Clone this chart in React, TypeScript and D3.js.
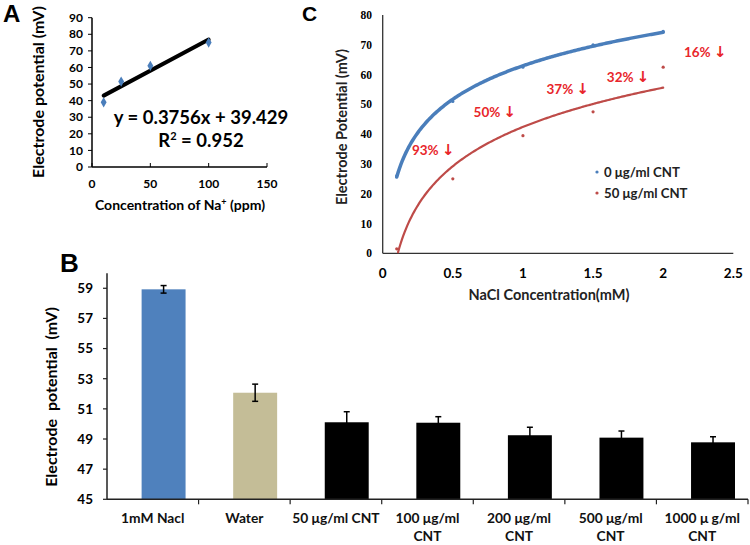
import React from "react";
import * as d3 from "d3";

// Panel A data
const naPpm = [10, 25, 50, 100];
const naPotential = [39, 51.5, 61, 75];
const aYTicks = [0, 10, 20, 30, 40, 50, 60, 70, 80, 90];
const aXTicks = [0, 50, 100, 150];

// Panel B data
const bCategories = ["1mM Nacl", "Water", "50 μg/ml CNT", "100 μg/ml|CNT", "200 μg/ml|CNT", "500 μg/ml|CNT", "1000 μ g/ml|CNT"];
const bValues = [58.93, 52.07, 50.11, 50.08, 49.25, 49.09, 48.78];
const bErrors = [0.25, 0.57, 0.7, 0.4, 0.53, 0.44, 0.37];
const bColors = ["#4f81bd", "#c4bd97", "#000000", "#000000", "#000000", "#000000", "#000000"];
const bYTicks = [45, 47, 49, 51, 53, 55, 57, 59];

// Panel C data
const nacl = [0.1, 0.5, 1, 1.5, 2];
const pot0 = [26, 51, 62.5, 70, 74.5];
const pot50 = [1.5, 25, 39.5, 47.5, 62.5];
const cXTicks = [0, 0.5, 1, 1.5, 2, 2.5];
const cYTicks = [0, 10, 20, 30, 40, 50, 60, 70, 80];
const dropLabels = ["93%", "50%", "37%", "32%", "16%"];
const dropX = [0.36, 0.8, 1.32, 1.75, 2.3];
const dropY = [34.5, 47.5, 55, 59, 67.5];

const SANS = "Lato, 'Open Sans', sans-serif";
const SERIF = "'Liberation Serif', 'DejaVu Serif', serif";

function linFit(xs: number[], ys: number[]) {
  const mx = d3.mean(xs)!;
  const my = d3.mean(ys)!;
  let sxy = 0, sxx = 0;
  xs.forEach((x, i) => { sxy += (x - mx) * (ys[i] - my); sxx += (x - mx) * (x - mx); });
  const a = sxy / sxx;
  return { a, b: my - a * mx };
}

function PanelA() {
  const x = d3.scaleLinear().domain([0, 150]).range([92, 267]);
  const y = d3.scaleLinear().domain([0, 90]).range([167, 17.7]);
  const fit = linFit(naPpm, naPotential);
  const x0 = d3.min(naPpm)!, x1 = d3.max(naPpm)!;
  const diamond = d3.symbol().type(d3.symbolDiamond).size(30)()!;
  return (
    <g>
      <text x={3} y={22} fontFamily="Arial, 'Liberation Sans', sans-serif" fontWeight="bold" fontSize={24}>A</text>
      <line x1={x(0)} x2={x(0)} y1={y(90)} y2={y(0)} stroke="#000" strokeWidth={1.5} />
      <line x1={x(0)} x2={x(150)} y1={y(0)} y2={y(0)} stroke="#000" strokeWidth={1.5} />
      {aYTicks.map((t) => (
        <g key={t}>
          <line x1={x(0) - 4} x2={x(0)} y1={y(t)} y2={y(t)} stroke="#000" strokeWidth={1} />
          <text x={83} y={y(t)} dy="0.35em" textAnchor="end" fontFamily={SANS} fontWeight="bold" fontSize={12}>{t}</text>
        </g>
      ))}
      {aXTicks.map((t) => (
        <g key={t}>
          <line x1={x(t)} x2={x(t)} y1={y(0) - 4} y2={y(0)} stroke="#000" strokeWidth={1} />
          <text x={x(t)} y={188} textAnchor="middle" fontFamily={SANS} fontWeight="bold" fontSize={12}>{t}</text>
        </g>
      ))}
      <text x={180} y={210} textAnchor="middle" fontFamily={SANS} fontWeight="bold" fontSize={14}>
        Concentration of Na<tspan fontSize={9} dy={-5}>+</tspan><tspan dy={5}> (ppm)</tspan>
      </text>
      <text transform="translate(44,92) rotate(-90)" textAnchor="middle" fontFamily={SANS} fontWeight="bold" fontSize={16}>Electrode potential (mV)</text>
      <line x1={x(x0)} x2={x(x1)} y1={y(fit.a * x0 + fit.b)} y2={y(fit.a * x1 + fit.b)} stroke="#000" strokeWidth={4} strokeLinecap="round" />
      {naPpm.map((v, i) => (
        <path key={i} d={diamond} transform={`translate(${x(v)},${y(naPotential[i])})`} fill="#4a7ebb" />
      ))}
      <text x={201} y={124} textAnchor="middle" fontFamily={SANS} fontWeight="bold" fontSize={18.5}>y = 0.3756x + 39.429</text>
      <text x={201} y={147} textAnchor="middle" fontFamily={SANS} fontWeight="bold" fontSize={18.5}>
        R<tspan fontSize={11} dy={-7}>2</tspan><tspan dy={7}> = 0.952</tspan>
      </text>
    </g>
  );
}

function PanelB() {
  const xb = d3.scaleBand<string>().domain(bCategories).range([107, 748]).padding(0);
  const y = d3.scaleLinear().domain([45, 60]).range([499.3, 273.2]);
  const bw = xb.bandwidth();
  return (
    <g>
      <text x={60} y={272} fontFamily="Arial, 'Liberation Sans', sans-serif" fontWeight="bold" fontSize={26}>B</text>
      {bCategories.map((c, i) => {
        const bx = xb(c)! + bw * 0.378;
        const w = bw * 0.48;
        const cx = bx + w / 2;
        return (
          <g key={c}>
            <rect x={bx} y={y(bValues[i])} width={w} height={y(45) - y(bValues[i])} fill={bColors[i]} />
            <line x1={cx} x2={cx} y1={y(bValues[i] + bErrors[i])} y2={y(bValues[i] - bErrors[i])} stroke="#000" strokeWidth={1.5} />
            <line x1={cx - 3} x2={cx + 3} y1={y(bValues[i] + bErrors[i])} y2={y(bValues[i] + bErrors[i])} stroke="#000" strokeWidth={1.5} />
            <line x1={cx - 3} x2={cx + 3} y1={y(bValues[i] - bErrors[i])} y2={y(bValues[i] - bErrors[i])} stroke="#000" strokeWidth={1.5} />
          </g>
        );
      })}
      <line x1={107} x2={107} y1={y(60)} y2={y(45)} stroke="#222" strokeWidth={1.5} />
      <line x1={107} x2={748} y1={y(45)} y2={y(45)} stroke="#222" strokeWidth={1.5} />
      {bYTicks.map((t) => (
        <g key={t}>
          <line x1={103} x2={107} y1={y(t)} y2={y(t)} stroke="#222" strokeWidth={1.2} />
          <text x={93} y={y(t)} dy="0.36em" textAnchor="end" fontFamily={SANS} fontWeight="bold" fontSize={13.5}>{t}</text>
        </g>
      ))}
      {bCategories.map((c, i) => (
        <line key={"t" + i} x1={xb(c)! + bw} x2={xb(c)! + bw} y1={y(45)} y2={y(45) + 5} stroke="#222" strokeWidth={1.2} />
      ))}
      {bCategories.map((c) => {
        const lines = c.split("|");
        const cx = xb(c)! + bw / 2;
        return (
          <text key={"l" + c} textAnchor="middle" fontFamily={SANS} fontWeight="bold" fontSize={13.8} fill="#111">
            {lines.map((ln, j) => (
              <tspan key={j} x={cx} y={523 + j * 17.5}>{ln}</tspan>
            ))}
          </text>
        );
      })}
      <text transform="translate(57,397) rotate(-90)" textAnchor="middle" fontFamily={SANS} fontWeight="bold" fontSize={16} style={{ whiteSpace: "pre" }}>Electrode  potential  (mV)</text>
    </g>
  );
}

function PanelC() {
  const x = d3.scaleLinear().domain([0, 2.5]).range([382.7, 733.3]);
  const y = d3.scaleLinear().domain([0, 80]).range([253.3, 15]);
  const logFit = (xs: number[], ys: number[]) => linFit(xs.map(Math.log), ys);
  const f0 = logFit(nacl, pot0);
  const f50 = logFit(nacl, pot50);
  const xs = d3.range(0, 201).map((i) => d3.min(nacl)! + (i / 200) * (d3.max(nacl)! - d3.min(nacl)!));
  const line = (f: { a: number; b: number }) =>
    d3.line<number>().x((v) => x(v)).y((v) => y(Math.max(0, f.a * Math.log(v) + f.b)))
      .defined((v) => f.a * Math.log(v) + f.b >= -0.2)(xs)!;
  return (
    <g>
      <text x={302} y={21} fontFamily="Arial, 'Liberation Sans', sans-serif" fontWeight="bold" fontSize={21}>C</text>
      <line x1={x(0)} x2={x(0)} y1={y(80)} y2={y(0)} stroke="#333" strokeWidth={1.3} />
      <line x1={x(0)} x2={x(2.5)} y1={y(0)} y2={y(0)} stroke="#333" strokeWidth={1.3} />
      {cYTicks.map((t) => (
        <text key={t} x={372} y={y(t)} dy="0.35em" textAnchor="end" fontFamily={SERIF} fontWeight="bold" fontSize={11.5}>{t}</text>
      ))}
      {cXTicks.map((t) => (
        <text key={t} x={x(t)} y={278} textAnchor="middle" fontFamily={SANS} fontWeight="bold" fontSize={13.5}>{t}</text>
      ))}
      <text x={549} y={300} textAnchor="middle" fontFamily={SANS} fontWeight="bold" fontSize={14.5} fill="#222">NaCl Concentration(mM)</text>
      <text transform="translate(347,127) rotate(-90)" textAnchor="middle" fontFamily={SANS} fontWeight="bold" fontSize={14.5} fill="#222">Electrode Potential (mV)</text>
      <path d={line(f0)} fill="none" stroke="#4a7ebb" strokeWidth={3.5} strokeLinecap="round" />
      <path d={line(f50)} fill="none" stroke="#be4b48" strokeWidth={2.2} strokeLinecap="round" />
      {nacl.map((v, i) => (
        <circle key={"b" + i} cx={x(v)} cy={y(pot0[i])} r={1.6} fill="#4a7ebb" />
      ))}
      {nacl.map((v, i) => (
        <circle key={"r" + i} cx={x(v)} cy={y(pot50[i])} r={1.6} fill="#be4b48" />
      ))}
      {dropLabels.map((l, i) => (
        <text key={l} x={x(dropX[i])} y={y(dropY[i])} dy="0.35em" textAnchor="middle" fontFamily={SANS} fontWeight="bold" fontSize={13.5} fill="#e8262b">
          {l} <tspan fontFamily="'DejaVu Sans', sans-serif" fontSize={15}>↓</tspan>
        </text>
      ))}
      <circle cx={597} cy={172} r={1.6} fill="#4a7ebb" />
      <text x={604} y={172} dy="0.35em" fontFamily={SANS} fontWeight="bold" fontSize={13.2} fill="#222">0 μg/ml CNT</text>
      <circle cx={597} cy={193} r={1.6} fill="#be4b48" />
      <text x={604} y={193} dy="0.35em" fontFamily={SANS} fontWeight="bold" fontSize={13.2} fill="#222">50 μg/ml CNT</text>
    </g>
  );
}

export default function App() {
  return (
    <svg width={750} height={545} style={{ position: "absolute", left: 0, top: 0, background: "#fff" }}>
      <rect x={0} y={0} width={750} height={545} fill="#fff" />
      <PanelA />
      <PanelB />
      <PanelC />
    </svg>
  );
}
